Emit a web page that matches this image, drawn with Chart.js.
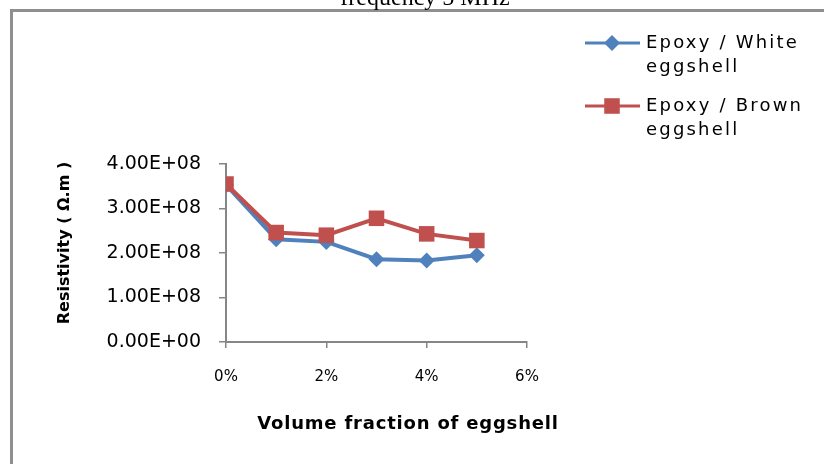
<!DOCTYPE html>
<html>
<head>
<meta charset="utf-8">
<script src="https://cdn.jsdelivr.net/npm/chart.js@4/dist/chart.umd.min.js"></script>
<style>
  html, body { margin: 0; padding: 0; background: #fff; overflow: hidden; }
  #wrap { position: relative; width: 824px; height: 464px; overflow: hidden; }
</style>
</head>
<body>
<div id="wrap"><canvas id="resChart" width="824" height="464"></canvas></div>
<script>
// volume fraction of eggshell
const fractions = [0, 0.01, 0.02, 0.03, 0.04, 0.05];
const whiteEggshell = [3.53e8, 2.31e8, 2.25e8, 1.86e8, 1.83e8, 1.95e8];
const brownEggshell = [3.55e8, 2.46e8, 2.40e8, 2.78e8, 2.43e8, 2.28e8];
const seriesNames = [["Epoxy / White", "eggshell"], ["Epoxy / Brown", "eggshell"]];
const chartTitle = "frequency 5 MHz";
const xTitle = "Volume fraction of eggshell";
const yTitle = "Resistivity ( \u03A9.m )";

const axisGray = "#868686";

function sci(v) {
  if (v === 0) return "0.00E+00";
  var e = Math.floor(Math.log10(Math.abs(v)));
  var m = v / Math.pow(10, e);
  return m.toFixed(2) + "E" + (e < 0 ? "-" : "+") + String(Math.abs(e)).padStart(2, "0");
}

function toPoints(ys) {
  return fractions.map((x, i) => ({ x: x, y: ys[i] }));
}

// frame, clipped title, axis titles and legend
const decorPlugin = {
  id: "decor",
  afterDraw(chart) {
    const ctx = chart.ctx;
    ctx.save();
    ctx.fillStyle = "#8f8f8f";
    ctx.fillRect(10, 10, 3, 454);
    ctx.fillRect(10, 9, 814, 3);

    ctx.fillStyle = "#000";
    ctx.font = "24px 'Liberation Serif'";
    ctx.textAlign = "center";
    ctx.textBaseline = "alphabetic";
    ctx.fillText(chartTitle, 425, 5);

    ctx.font = "bold 18px 'DejaVu Sans'";
    ctx.letterSpacing = "0.8px";
    ctx.textBaseline = "middle";
    ctx.fillText(xTitle, 408, 424);

    ctx.save();
    ctx.translate(65, 243);
    ctx.rotate(-Math.PI / 2);
    ctx.font = "bold 16px 'DejaVu Sans'";
    ctx.letterSpacing = "0px";
    ctx.fillText(yTitle, 0, 0);
    ctx.restore();

    // legend
    const rows = [43, 106];
    ctx.textAlign = "left";
    ctx.font = "18px 'DejaVu Sans'";
    ctx.letterSpacing = "2.2px";
    chart.data.datasets.forEach((ds, i) => {
      const y = rows[i];
      ctx.strokeStyle = ds.borderColor;
      ctx.lineWidth = 3;
      ctx.beginPath();
      ctx.moveTo(585, y);
      ctx.lineTo(640, y);
      ctx.stroke();
      ctx.fillStyle = ds.backgroundColor;
      Chart.helpers.drawPoint(ctx, {
        pointStyle: ds.pointStyle,
        radius: ds.pointStyle === "rect" ? 11 : 8,
        borderWidth: 0,
        rotation: 0
      }, 612, y);
      ctx.fillStyle = "#000";
      seriesNames[i].forEach((t, j) => ctx.fillText(t, 646, y + j * 24));
    });
    ctx.restore();
    ctx.letterSpacing = "0px";
  }
};

new Chart(document.getElementById("resChart"), {
  type: "line",
  data: {
    datasets: [
      {
        label: seriesNames[0].join(" "),
        data: toPoints(whiteEggshell),
        borderColor: "#4F81BD",
        backgroundColor: "#4F81BD",
        borderWidth: 4,
        pointStyle: "rectRot",
        pointRadius: 8,
        pointBorderWidth: 0,
        order: 1
      },
      {
        label: seriesNames[1].join(" "),
        data: toPoints(brownEggshell),
        borderColor: "#C0504D",
        backgroundColor: "#C0504D",
        borderWidth: 4,
        pointStyle: "rect",
        pointRadius: 11,
        pointBorderWidth: 0,
        order: 0
      }
    ]
  },
  options: {
    responsive: false,
    animation: false,
    layout: { padding: { left: 0, top: 164, right: 297, bottom: 0 } },
    plugins: {
      legend: { display: false },
      title: { display: false },
      tooltip: { enabled: false }
    },
    elements: { line: { tension: 0 } },
    scales: {
      x: {
        type: "linear",
        min: 0,
        max: 0.06,
        afterFit: (s) => { s.height = 122; },
        ticks: {
          stepSize: 0.02,
          padding: 20,
          color: "#000",
          font: { family: "DejaVu Sans", size: 15 },
          callback: (v) => Math.round(v * 100) + "%"
        },
        grid: { drawOnChartArea: false, tickLength: 6, color: axisGray, lineWidth: 1.5 },
        border: { color: axisGray, width: 2 }
      },
      y: {
        min: 0,
        max: 4e8,
        afterFit: (s) => { s.width = 226; },
        ticks: {
          stepSize: 1e8,
          padding: 18,
          color: "#000",
          font: { family: "DejaVu Sans", size: 19 },
          callback: (v) => sci(v)
        },
        grid: { drawOnChartArea: false, tickLength: 7, color: axisGray, lineWidth: 1.5 },
        border: { color: axisGray, width: 2 }
      }
    }
  },
  plugins: [decorPlugin]
});
</script>
</body>
</html>
